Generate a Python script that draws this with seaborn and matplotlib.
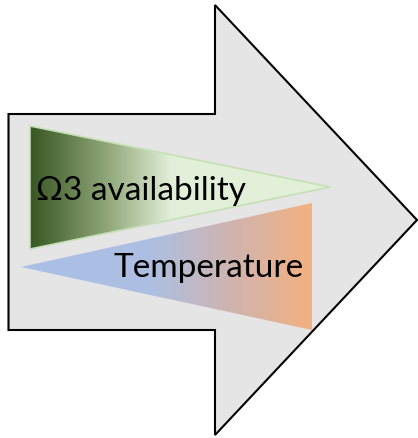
import numpy as np
import matplotlib.pyplot as plt
import seaborn as sns
from matplotlib.patches import Polygon
from matplotlib.colors import LinearSegmentedColormap


# outline of the big arrow (pixel coordinates, y down)
arrow_x = [8.5, 215, 215, 417, 215, 215, 8.5]
arrow_y = [115, 115, 6, 221, 436, 331, 331]

# green wedge: Omega-3 availability
omega_x = [30, 330, 30]
omega_y = [127, 188, 250]
omega_stop_pos = [0.0, 0.25, 0.47, 1.0]
omega_stop_colors = ["#385723", "#8ea477", "#e2efd9", "#e2efd9"]

# temperature wedge
temp_x = [21, 312, 312]
temp_y = [268, 204, 331]
temp_stop_pos = [0.0, 0.45, 0.72, 1.0]
temp_stop_colors = ["#aac0e8", "#adbfe2", "#cfb4b0", "#f3b180"]

labels = ["\u03a93 availability", "Temperature"]
label_x = [36, 113]
label_y = [200, 277]

W, H = 418, 439


def gradient_wedge(ax, xs, ys, pos, colors, edge=None):
    """Fill a polygon with a horizontal colour gradient."""
    cmap = LinearSegmentedColormap.from_list("grad", list(zip(pos, colors)))
    poly = Polygon(np.column_stack([xs, ys]), closed=True,
                   facecolor="none", edgecolor=edge or "none",
                   linewidth=1.2, zorder=3)
    ax.add_patch(poly)
    grad = np.linspace(0, 1, 256).reshape(1, -1)
    im = ax.imshow(grad, cmap=cmap, aspect="auto", interpolation="bilinear",
                   extent=[min(xs), max(xs), max(ys), min(ys)], zorder=2)
    im.set_clip_path(poly)


sns.set_theme(style="white")
plt.rcParams["font.family"] = ["Lato", "DejaVu Sans"]

fig = plt.figure(figsize=(W / 100, H / 100), dpi=100)
ax = fig.add_axes([0, 0, 1, 1])

ax.add_patch(Polygon(np.column_stack([arrow_x, arrow_y]), closed=True,
                     facecolor="#e5e5e5", edgecolor="black",
                     linewidth=1.5, joinstyle="miter", zorder=1))

gradient_wedge(ax, omega_x, omega_y, omega_stop_pos, omega_stop_colors,
               edge="#c5e0b4")
gradient_wedge(ax, temp_x, temp_y, temp_stop_pos, temp_stop_colors)

for text, x, y in zip(labels, label_x, label_y):
    ax.text(x, y, text, fontsize=24, color="black", ha="left",
            va="baseline", zorder=4)

ax.set_xlim(0, W)
ax.set_ylim(H, 0)
ax.axis("off")

fig.savefig("out.png", dpi=100, facecolor="white")
